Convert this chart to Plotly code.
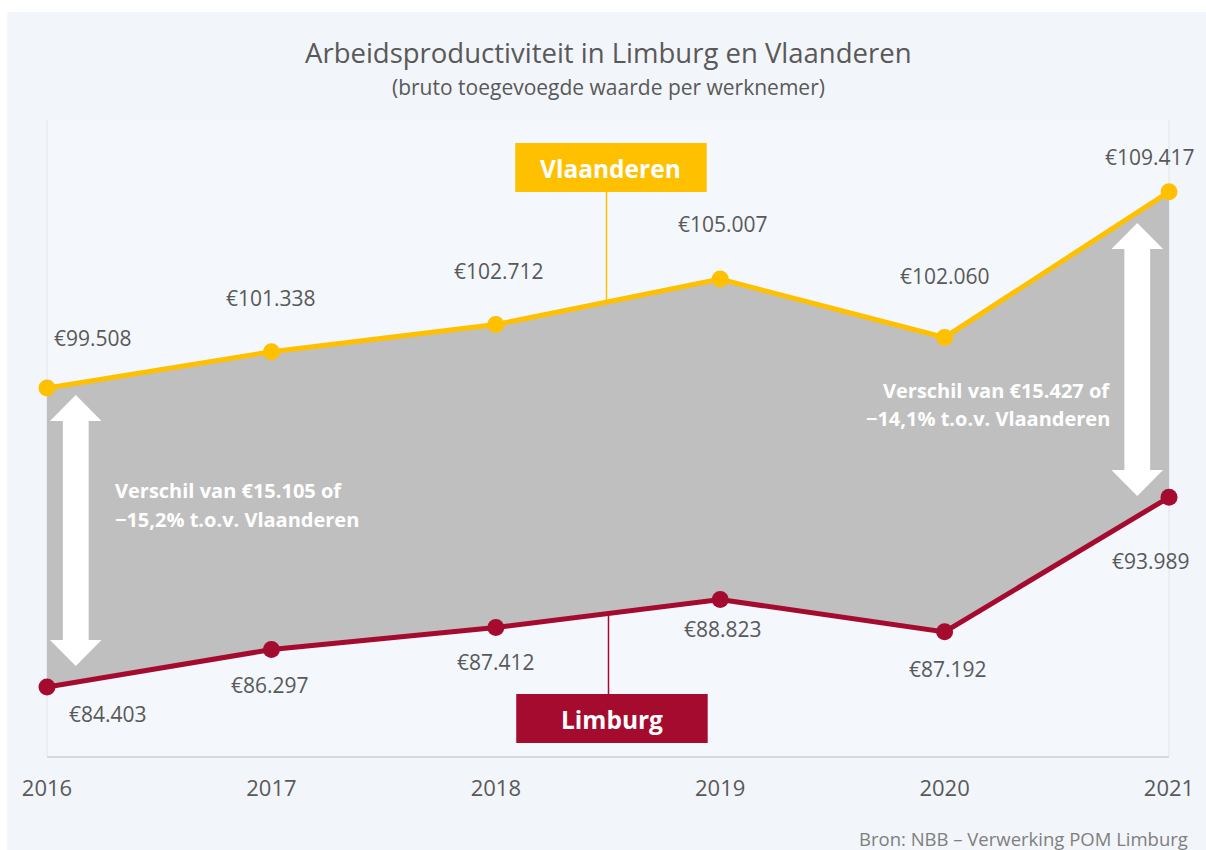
import plotly.graph_objects as go
import numpy as np

# ---------------- data ----------------
years = [2016, 2017, 2018, 2019, 2020, 2021]
vlaanderen = [99508, 101338, 102712, 105007, 102060, 109417]
limburg = [84403, 86297, 87412, 88823, 87192, 93989]
year_labels = ["2016", "2017", "2018", "2019", "2020", "2021"]

title = "Arbeidsproductiviteit in Limburg en Vlaanderen"
subtitle = "(bruto toegevoegde waarde per werknemer)"
source = "Bron: NBB – Verwerking POM Limburg"
diff_2016 = ["Verschil van €15.105 of", "−15,2% t.o.v. Vlaanderen"]
diff_2021 = ["Verschil van €15.427 of", "−14,1% t.o.v. Vlaanderen"]

# ---------------- styles / layout ----------------
GOLD = "#FFC000"
RED = "#A50B2E"
FILL = "#BFBFBF"
PANEL = "#F2F5FA"
PLOTBG = "#F4F7FB"
TXT = "#595959"
FONT = "Open Sans"

W, H = 1206, 850
PX_L, PX_R, PX_T, PX_B = 47, 1178, 120, 756
R_MARGIN = W - PX_R
Y0, Y1 = 80922, 113043


def xd(px):
    return years[0] + (px - PX_L) / (PX_R - PX_L) * (years[-1] - years[0])


def yd(py):
    return Y0 + (PX_B - py) / (PX_B - PX_T) * (Y1 - Y0)


def xp(px):
    return (px - PX_L) / (PX_R - PX_L)


def yp(py):
    return (PX_B - py) / (PX_B - PX_T)


def fmt(v):
    return "€" + f"{v:,}".replace(",", ".")


fig = go.Figure()

# fill between series
fig.add_trace(go.Scatter(x=years, y=limburg, mode="lines", line=dict(width=0, color=RED),
                         hoverinfo="skip", showlegend=False))
fig.add_trace(go.Scatter(x=years, y=vlaanderen, mode="lines", line=dict(width=0, color=GOLD),
                         fill="tonexty", fillcolor=FILL, hoverinfo="skip", showlegend=False))
# lines
fig.add_trace(go.Scatter(x=years, y=limburg, mode="lines+markers", name="Limburg",
                         line=dict(width=5, color=RED), marker=dict(size=17, color=RED),
                         cliponaxis=False, showlegend=False))
fig.add_trace(go.Scatter(x=years, y=vlaanderen, mode="lines+markers", name="Vlaanderen",
                         line=dict(width=5, color=GOLD), marker=dict(size=17, color=GOLD),
                         cliponaxis=False, showlegend=False))

annotations = []
# value labels (offsets in px)
v_shift = [(46, 50), (0, 54), (3, 54), (3, 55), (0, 61), (-19, 35)]
l_shift = [(61, -27), (-1, -35), (0, -34), (3, -29), (3, -37), (-18, -64)]
for i, yr in enumerate(years):
    annotations.append(dict(x=yr, y=vlaanderen[i], xref="x", yref="y", text=fmt(vlaanderen[i]),
                            showarrow=False, xshift=v_shift[i][0], yshift=v_shift[i][1],
                            font=dict(family=FONT, size=21, color=TXT)))
    annotations.append(dict(x=yr, y=limburg[i], xref="x", yref="y", text=fmt(limburg[i]),
                            showarrow=False, xshift=l_shift[i][0], yshift=l_shift[i][1],
                            font=dict(family=FONT, size=21, color=TXT)))

# title / subtitle / source
annotations.append(dict(x=0.5, y=yp(52), xref="paper", yref="paper", text=title, showarrow=False,
                        xanchor="center", yanchor="middle", font=dict(family=FONT, size=27.5, color=TXT)))
annotations.append(dict(x=0.5, y=yp(87), xref="paper", yref="paper", text=subtitle, showarrow=False,
                        xanchor="center", yanchor="middle", font=dict(family=FONT, size=21, color=TXT)))
annotations.append(dict(x=xp(1199), y=yp(838), xref="paper", yref="paper", text=source, showarrow=False,
                        xanchor="right", yanchor="middle", font=dict(family=FONT, size=18.5, color="#7F7F7F")))

# difference texts
for j, line in enumerate(diff_2016):
    annotations.append(dict(x=xp(114), y=yp(490 + 29 * j), xref="paper", yref="paper", text="<b>" + line + "</b>",
                            showarrow=False, xanchor="left", yanchor="middle",
                            font=dict(family=FONT, size=20, color="white")))
for j, line in enumerate(diff_2021):
    annotations.append(dict(x=xp(1121), y=yp(390 + 29 * j), xref="paper", yref="paper", text="<b>" + line + "</b>",
                            showarrow=False, xanchor="right", yanchor="middle",
                            font=dict(family=FONT, size=20, color="white")))

# legend boxes text
annotations.append(dict(x=xp(615.5), y=yp(168), xref="paper", yref="paper", text="<b>Vlaanderen</b>",
                        showarrow=False, xanchor="center", yanchor="middle",
                        font=dict(family=FONT, size=24.5, color="white")))
annotations.append(dict(x=xp(616.5), y=yp(719), xref="paper", yref="paper", text="<b>Limburg</b>",
                        showarrow=False, xanchor="center", yanchor="middle",
                        font=dict(family=FONT, size=24.5, color="white")))

shapes = []
# outer panel
shapes.append(dict(type="rect", xref="paper", yref="paper", x0=xp(7), x1=xp(W + 20), y0=yp(H), y1=yp(12),
                   fillcolor=PANEL, line=dict(width=0), layer="below"))
# plot area
shapes.append(dict(type="rect", xref="paper", yref="paper", x0=0, x1=1, y0=0, y1=1,
                   fillcolor=PLOTBG, line=dict(width=0), layer="below"))
for xx in (0, 1):
    shapes.append(dict(type="line", xref="paper", yref="paper", x0=xx, x1=xx, y0=0, y1=1,
                       line=dict(color="#E3E6EA", width=1), layer="below"))


def arrow_path(cx, ytop, ybot, shaft=13, head=26, hlen=26):
    pts = [
        (cx, ytop), (cx + head, ytop + hlen), (cx + shaft, ytop + hlen),
        (cx + shaft, ybot - hlen), (cx + head, ybot - hlen), (cx, ybot),
        (cx - head, ybot - hlen), (cx - shaft, ybot - hlen), (cx - shaft, ytop + hlen),
        (cx - head, ytop + hlen),
    ]
    return "M " + " L ".join(f"{xd(a):.5f},{yd(b):.2f}" for a, b in pts) + " Z"


shapes.append(dict(type="path", xref="x", yref="y", path=arrow_path(76, 395, 666),
                   fillcolor="white", line=dict(width=0), layer="above"))
shapes.append(dict(type="path", xref="x", yref="y", path=arrow_path(1146, 223, 496),
                   fillcolor="white", line=dict(width=0), layer="above"))

# legend leader lines
xv = xd(611)
shapes.append(dict(type="line", xref="x", yref="y", x0=xv, x1=xv, y0=float(np.interp(xv, years, vlaanderen)),
                   y1=yd(192), line=dict(color=GOLD, width=1.5), layer="above"))
xl = xd(613)
shapes.append(dict(type="line", xref="x", yref="y", x0=xl, x1=xl, y0=float(np.interp(xl, years, limburg)),
                   y1=yd(694), line=dict(color=RED, width=1.5), layer="above"))
# legend boxes
shapes.append(dict(type="rect", xref="paper", yref="paper", x0=xp(519), x1=xp(712), y0=yp(192), y1=yp(143),
                   fillcolor=GOLD, line=dict(width=0), layer="above"))
shapes.append(dict(type="rect", xref="paper", yref="paper", x0=xp(520), x1=xp(713), y0=yp(743), y1=yp(694),
                   fillcolor=RED, line=dict(width=0), layer="above"))

fig.update_layout(
    autosize=True, height=H,
    margin=dict(l=PX_L, r=R_MARGIN, t=PX_T, b=H - PX_B, pad=0),
    paper_bgcolor="white", plot_bgcolor="rgba(0,0,0,0)",
    showlegend=False,
    annotations=annotations, shapes=shapes,
    font=dict(family=FONT, color=TXT),
    xaxis=dict(range=[years[0], years[-1]], tickvals=years, ticktext=year_labels, showgrid=False,
               zeroline=False, showline=True, linecolor="#D9D9D9", linewidth=2,
               ticks="outside", ticklen=12, tickcolor="rgba(0,0,0,0)", ticklabeloverflow="allow",
               tickfont=dict(family=FONT, size=22, color=TXT), fixedrange=True),
    yaxis=dict(range=[Y0, Y1], showgrid=False, zeroline=False, showticklabels=False,
               showline=False, fixedrange=True),
)

post = (
    "document.body.style.margin='0';document.body.style.padding='0';"
    "document.body.style.overflow='hidden';document.documentElement.style.overflow='hidden';"
    "var gd=document.getElementById('{plot_id}');"
    "if(window.Plotly&&gd){Plotly.Plots.resize(gd);}"
)
fig.write_html("out.html", config={"displayModeBar": False, "responsive": True},
               default_width="100%", default_height="850px", post_script=post)
